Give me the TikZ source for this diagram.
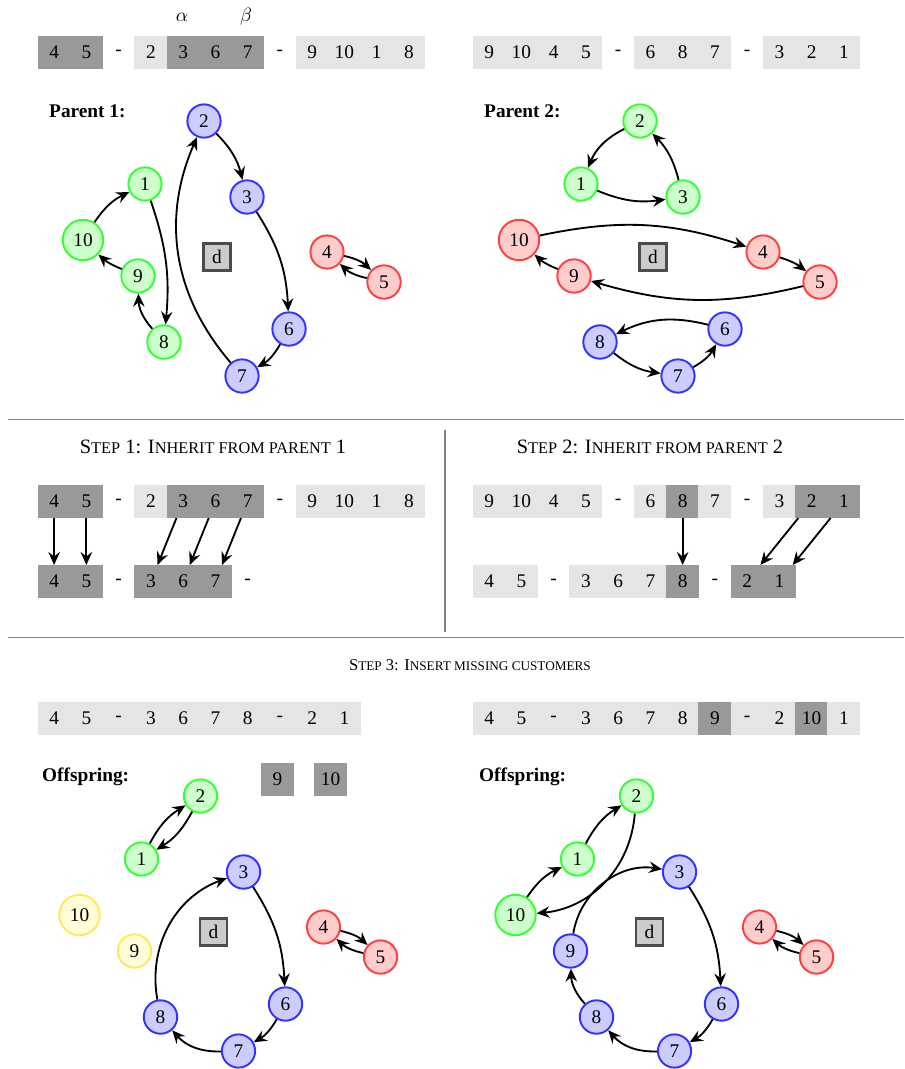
\documentclass[tikz,border=0pt]{standalone}
\usepackage{fontspec}
\setmainfont{Liberation Serif}
\usetikzlibrary{arrows.meta}

\definecolor{ylwline}{RGB}{255,232,90}
\definecolor{sepgray}{RGB}{128,128,128}

\newcommand{\figfont}{\fontsize{11}{13}\selectfont}
\makeatletter
% scaled capitals standing in for small caps
\newcommand{\smcp}[1]{{\fontsize{\strip@pt\dimexpr0.8\dimexpr\f@size pt\relax\relax}{1}\selectfont\MakeUppercase{#1}}}
\makeatother

\tikzset{
  cust/.style={circle, draw, line width=1.1pt, minimum size=0.66cm, inner sep=3.5pt, font=\figfont},
  grnode/.style={cust, draw=green!80, fill=green!20},
  blnode/.style={cust, draw=blue!80, fill=blue!20},
  rdnode/.style={cust, draw=red!75, fill=red!20},
  ylnode/.style={cust, draw=ylwline, fill=yellow!15},
  depot/.style={rectangle, draw=black!70, fill=black!20, line width=1.2pt, minimum size=0.54cm, inner sep=0pt, font=\figfont},
  % cells overlap a little so that no seam shows between them
  cellno/.style={rectangle, minimum width=0.66cm, minimum height=0.66cm, inner sep=0pt, outer sep=0pt, font=\figfont},
  celllt/.style={cellno, fill=black!10},
  celldk/.style={cellno, fill=black!40},
  link/.style={-{Stealth[length=2.6mm,width=2.3mm,inset=0.9mm]}, line width=1.05pt},
  grlabel/.style={anchor=west, font=\figfont\bfseries},
  sepline/.style={draw=sepgray, line width=0.9pt},
}

\begin{document}
\begin{tikzpicture}[x=0.02cm, y=-0.02cm]
\useasboundingbox (0,0) rectangle (904,1069);

% the two parents as sequences
\foreach \v/\s [count=\i] in {4/celldk,5/celldk,-/cellno,2/celllt,3/celldk,6/celldk,7/celldk,-/cellno,9/celllt,10/celllt,1/celllt,8/celllt}
  \node[\s] (pa\i) at ({38+(\i-0.5)*32.25},52.5) {\v};
\foreach \v/\s [count=\i] in {9/celllt,10/celllt,4/celllt,5/celllt,-/cellno,6/celllt,8/celllt,7/celllt,-/cellno,3/celllt,2/celllt,1/celllt}
  \node[\s] (pb\i) at ({473+(\i-0.5)*32.25},52.5) {\v};
\node[font=\figfont] (alpha) at (182,17) {$\alpha$};
\node[font=\figfont] (beta) at (246,17) {$\beta$};

% parent 1
\node[grlabel] (lab1) at (43,111) {Parent 1:};
\foreach \n/\x/\y/\s in {1/145/184/grnode,2/204/121/blnode,3/247/197/blnode,4/327/252/rdnode,5/384/282/rdnode,6/289/329/blnode,7/242/376/blnode,8/164/342/grnode,9/138/276/grnode,10/83/240/grnode}
  \node[\s] (par1-\n) at (\x,\y) {\n};
\node[depot] (par1-d) at (217,257) {d};
\path[link] (par1-10) edge[bend left=15] (par1-1)
  (par1-1) edge[bend left=12] (par1-8)
  (par1-8) edge[bend left=20] (par1-9)
  (par1-9) edge[bend left=10] (par1-10)
  (par1-2) edge[bend left=15] (par1-3)
  (par1-3) edge[bend left=15] (par1-6)
  (par1-6) edge[bend left=15] (par1-7)
  (par1-7) edge[bend left=32] (par1-2)
  (par1-4) edge[bend left=15] (par1-5)
  (par1-5) edge[bend left=15] (par1-4);

% parent 2
\begin{scope}[shift={(436,0)}]
\node[grlabel] (lab2) at (42,111) {Parent 2:};
\foreach \n/\x/\y/\s in {1/145/184/grnode,2/204/121/grnode,3/247/197/grnode,4/327/252/rdnode,5/384/282/rdnode,6/289/329/blnode,7/242/376/blnode,8/164/342/blnode,9/138/276/rdnode,10/83/240/rdnode}
  \node[\s] (par2-\n) at (\x,\y) {\n};
\node[depot] (par2-d) at (217,257) {d};
\end{scope}
\path[link] (par2-9) edge[bend left=10] (par2-10)
  (par2-10) edge[bend left=15] (par2-4)
  (par2-4) edge[bend left=10] (par2-5)
  (par2-5) edge[bend left=15] (par2-9)
  (par2-6) edge[bend right=20] (par2-8)
  (par2-8) edge[bend right=15] (par2-7)
  (par2-7) edge[bend right=15] (par2-6)
  (par2-3) edge[bend right=15] (par2-2)
  (par2-2) edge[bend right=20] (par2-1)
  (par2-1) edge[bend right=15] (par2-3);

% separators
\draw[sepline] (8,419.5) -- (904,419.5);
\draw[sepline] (8,637.5) -- (904,637.5);
\draw[sepline] (445,430) -- (445,632);

% step 1
\node[font=\fontsize{11.6}{14}\selectfont] (step1) at (213,447) {S\smcp{tep} 1: I\smcp{nherit from parent} 1};
\foreach \v/\s [count=\i] in {4/celldk,5/celldk,-/cellno,2/celllt,3/celldk,6/celldk,7/celldk,-/cellno,9/celllt,10/celllt,1/celllt,8/celllt}
  \node[\s] (sa\i) at ({38+(\i-0.5)*32.25},501.5) {\v};
\foreach \v/\s [count=\i] in {4/celldk,5/celldk,-/cellno,3/celldk,6/celldk,7/celldk,-/cellno}
  \node[\s] (sb\i) at ({38+(\i-0.5)*32.25},581.5) {\v};
\draw[link] (sa1) -- (sb1);
\draw[link] (sa2) -- (sb2);
\draw[link] (sa5) -- (sb4);
\draw[link] (sa6) -- (sb5);
\draw[link] (sa7) -- (sb6);

% step 2
\node[font=\fontsize{11.6}{14}\selectfont] (step2) at (650,447) {S\smcp{tep} 2: I\smcp{nherit from parent} 2};
\foreach \v/\s [count=\i] in {9/celllt,10/celllt,4/celllt,5/celllt,-/cellno,6/celllt,8/celldk,7/celllt,-/cellno,3/celllt,2/celldk,1/celldk}
  \node[\s] (ta\i) at ({473+(\i-0.5)*32.25},501.5) {\v};
\foreach \v/\s [count=\i] in {4/celllt,5/celllt,-/cellno,3/celllt,6/celllt,7/celllt,8/celldk,-/cellno,2/celldk,1/celldk}
  \node[\s] (tb\i) at ({473+(\i-0.5)*32.25},581.5) {\v};
\draw[link] (ta7) -- (tb7);
\draw[link] (ta11) -- (tb9);
\draw[link] (ta12) -- (tb10);

% step 3
\node[font=\fontsize{9.4}{12}\selectfont] (step3) at (470,665) {S\smcp{tep} 3: I\smcp{nsert missing customers}};
\foreach \v [count=\i] in {4,5,-,3,6,7,8,-,2,1}
  \node[celllt] (ua\i) at ({38+(\i-0.5)*32.25},718.5) {\v};
\foreach \v/\s [count=\i] in {4/celllt,5/celllt,-/celllt,3/celllt,6/celllt,7/celllt,8/celllt,9/celldk,-/celllt,2/celllt,10/celldk,1/celllt}
  \node[\s] (ub\i) at ({473+(\i-0.5)*32.25},718.5) {\v};

% offspring before insertion
\begin{scope}[shift={(-3.5,675)}]
\node[grlabel] (lab3) at (39.5,102) {Offspring:};
\node[celldk] (miss9) at (281,104.5) {9};
\node[celldk] (miss10) at (334,104.5) {10};
\foreach \n/\x/\y/\s in {1/145/184/grnode,2/204/121/grnode,3/247/197/blnode,4/327/252/rdnode,5/384/282/rdnode,6/289/329/blnode,7/242/376/blnode,8/164/342/blnode,9/138/276/ylnode,10/83/240/ylnode}
  \node[\s] (off1-\n) at (\x,\y) {\n};
\node[depot] (off1-d) at (217,257) {d};
\end{scope}
\path[link] (off1-1) edge[bend left=15] (off1-2)
  (off1-2) edge[bend left=15] (off1-1)
  (off1-3) edge[bend left=15] (off1-6)
  (off1-6) edge[bend left=15] (off1-7)
  (off1-7) edge[bend left=25] (off1-8)
  (off1-8) edge[bend left=40] (off1-3)
  (off1-4) edge[bend left=15] (off1-5)
  (off1-5) edge[bend left=15] (off1-4);

% offspring after insertion
\begin{scope}[shift={(432.5,675)}]
\node[grlabel] (lab4) at (40.5,102) {Offspring:};
\foreach \n/\x/\y/\s in {1/145/184/grnode,2/204/121/grnode,3/247/197/blnode,4/327/252/rdnode,5/384/282/rdnode,6/289/329/blnode,7/242/376/blnode,8/164/342/blnode,9/138/276/blnode,10/83/240/grnode}
  \node[\s] (off2-\n) at (\x,\y) {\n};
\node[depot] (off2-d) at (217,257) {d};
\end{scope}
\path[link] (off2-2) edge[bend left=40] (off2-10)
  (off2-10) edge[bend left=15] (off2-1)
  (off2-1) edge[bend left=15] (off2-2)
  (off2-3) edge[bend left=15] (off2-6)
  (off2-6) edge[bend left=15] (off2-7)
  (off2-7) edge[bend left=25] (off2-8)
  (off2-8) edge[bend left=20] (off2-9)
  (off2-9) edge[bend left=45] (off2-3)
  (off2-4) edge[bend left=15] (off2-5)
  (off2-5) edge[bend left=15] (off2-4);
\end{tikzpicture}
\end{document}
